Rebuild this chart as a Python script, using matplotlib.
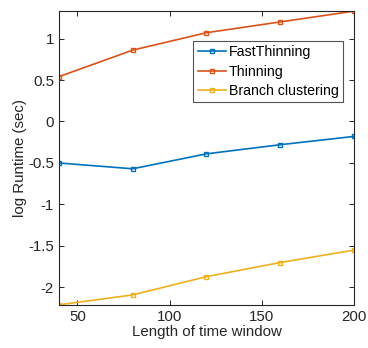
import matplotlib
matplotlib.use("Agg")
import matplotlib.pyplot as plt

window = [40, 80, 120, 160, 200]
fast_thinning = [-0.50, -0.57, -0.39, -0.28, -0.18]
thinning = [0.54, 0.86, 1.07, 1.20, 1.33]
branch_clustering = [-2.21, -2.09, -1.87, -1.70, -1.55]

plt.rcParams["font.family"] = ["Liberation Sans", "DejaVu Sans"]

fig = plt.figure(figsize=(3.68, 3.48), dpi=100)
ax = fig.add_axes([0.160, 0.124, 0.802, 0.844])

series = [("FastThinning", fast_thinning, "#0072BD"),
          ("Thinning", thinning, "#D95319"),
          ("Branch clustering", branch_clustering, "#EDB120")]
for name, vals, col in series:
    ax.plot(window, vals, color=col, lw=1.2, marker="s", ms=3.5,
            mfc="none", mec=col, mew=1.0, label=name)

ax.set_xlim(40, 200)
ax.set_ylim(-2.21, 1.33)
ax.set_xticks([50, 100, 150, 200])
ax.set_yticks([-2, -1.5, -1, -0.5, 0, 0.5, 1])
ax.set_yticklabels(["-2", "-1.5", "-1", "-0.5", "0", "0.5", "1"])
ax.tick_params(direction="in", top=True, right=True, labelsize=10.8,
               length=3.5, width=0.7, colors="#262626")
for s in ax.spines.values():
    s.set_linewidth(0.8)
    s.set_color("#262626")
ax.set_xlabel("Length of time window", fontsize=10.8, color="#262626", labelpad=1)
ax.set_ylabel("log Runtime (sec)", fontsize=10.8, color="#262626", labelpad=1)

leg = ax.legend(loc="upper right", bbox_to_anchor=(0.962, 0.898), fontsize=10.2,
                frameon=True, fancybox=False, edgecolor="#262626",
                borderpad=0.3, labelspacing=0.38, handlelength=2.0,
                handletextpad=0.2, borderaxespad=0)
leg.get_frame().set_linewidth(0.8)

fig.savefig("out.png", dpi=100)
